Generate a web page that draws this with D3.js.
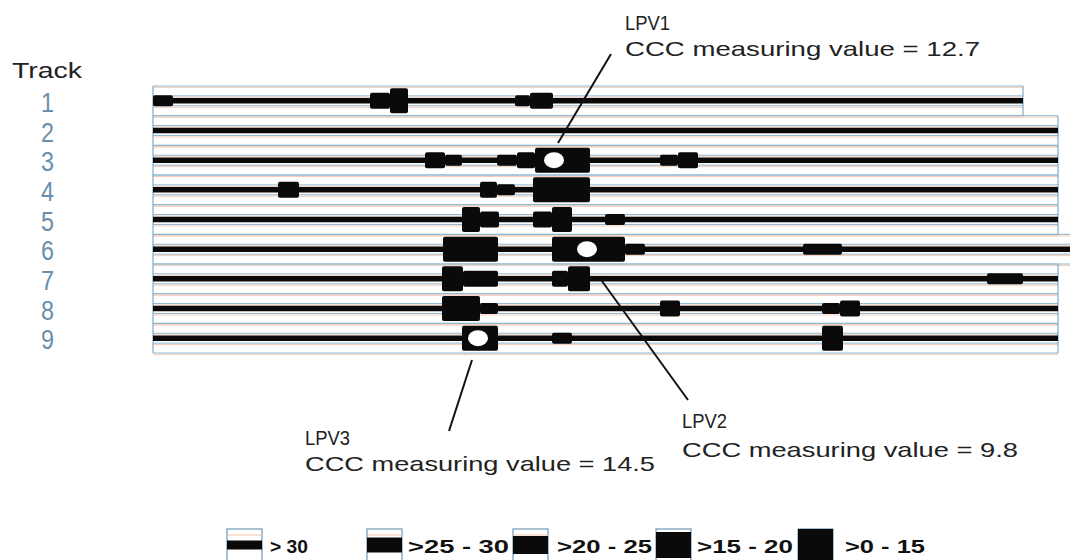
<!DOCTYPE html>
<html><head><meta charset="utf-8">
<script src="https://cdn.jsdelivr.net/npm/d3@7/dist/d3.min.js"></script>
<style>body{margin:0;background:#fff}svg{display:block}</style>
</head><body>
<svg id="c" width="1070" height="560"></svg>
<script>
// ---- data ----
const tracks = [1, 2, 3, 4, 5, 6, 7, 8, 9];
const trackLength = [870, 905, 905, 905, 905, 940, 905, 905, 905];
const classes = ["> 30", ">25 - 30", ">20 - 25", ">15 - 20", ">0 - 15"];
const baseClass = ">25 - 30";
// [track, from, to, class]
const segments = [
  [1, 0, 20, ">20 - 25"], [1, 217, 237, ">15 - 20"], [1, 237, 255, ">0 - 15"],
  [1, 362, 377, ">20 - 25"], [1, 377, 400, ">15 - 20"],
  [3, 272, 292, ">15 - 20"], [3, 292, 309, ">20 - 25"], [3, 344, 364, ">20 - 25"],
  [3, 364, 382, ">15 - 20"], [3, 382, 437, ">0 - 15"], [3, 507, 525, ">20 - 25"], [3, 525, 545, ">15 - 20"],
  [4, 125, 146, ">15 - 20"], [4, 327, 344, ">15 - 20"], [4, 344, 362, ">20 - 25"], [4, 380, 437, ">0 - 15"],
  [5, 309, 327, ">0 - 15"], [5, 327, 346, ">15 - 20"], [5, 380, 399, ">15 - 20"],
  [5, 399, 419, ">0 - 15"], [5, 452, 472, ">20 - 25"],
  [6, 290, 345, ">0 - 15"], [6, 399, 472, ">0 - 15"], [6, 472, 492, ">20 - 25"], [6, 650, 689, ">20 - 25"],
  [7, 289, 310, ">0 - 15"], [7, 310, 345, ">15 - 20"], [7, 399, 415, ">15 - 20"],
  [7, 415, 437, ">0 - 15"], [7, 834, 870, ">20 - 25"],
  [8, 289, 327, ">0 - 15"], [8, 327, 345, ">20 - 25"], [8, 507, 527, ">15 - 20"],
  [8, 669, 687, ">20 - 25"], [8, 687, 707, ">15 - 20"],
  [9, 309, 345, ">0 - 15"], [9, 399, 419, ">20 - 25"], [9, 669, 690, ">0 - 15"]
];
const lpvNames = ["LPV1", "LPV2", "LPV3"];
const lpvTrack = [3, 6, 9];
const lpvPos = [401, 434, 325];
const lpvValue = [12.7, 9.8, 14.5];

// ---- layout ----
const svg = d3.select("#c");
const font = "Liberation Sans, Arial, sans-serif";
const x = d3.scaleLinear().domain([0, 905]).range([153, 1058]);
const y = d3.scaleBand().domain(tracks).range([86, 353]).padding(0);
const bw = y.bandwidth();
const thick = d3.scaleOrdinal().domain(classes).range([2, 5.5, 11, 16, 25]);
const cy = t => y(t) + bw / 2;
const W = 1070;

// grid rows
const grid = svg.append("g");
tracks.forEach((t, i) => {
  const xe = Math.min(x(trackLength[i]), W);
  for (let k = 0; k <= 3; k++) {
    const yy = y(t) + k * bw / 3;
    grid.append("line").attr("x1", x(0)).attr("x2", xe).attr("y1", yy + 1.5).attr("y2", yy + 1.5)
      .attr("stroke", "#f6cdb8").attr("stroke-width", 1);
    grid.append("line").attr("x1", x(0)).attr("x2", xe).attr("y1", yy).attr("y2", yy)
      .attr("stroke", "#8db6d2").attr("stroke-width", 1);
  }
});
// borders
const border = svg.append("g").attr("stroke", "#7fa9c6").attr("stroke-width", 1.2).attr("fill", "none");
border.append("line").attr("x1", x(0)).attr("x2", x(0)).attr("y1", y(1)).attr("y2", y(9) + bw);
tracks.forEach((t, i) => {
  if (trackLength[i] <= 905) {
    border.append("line").attr("x1", x(trackLength[i])).attr("x2", x(trackLength[i]))
      .attr("y1", y(t)).attr("y2", y(t) + bw);
  }
});

// base track lines
svg.append("g").selectAll("line").data(tracks).join("line")
  .attr("x1", x(0)).attr("x2", (t, i) => Math.min(x(trackLength[i]), W))
  .attr("y1", cy).attr("y2", cy)
  .attr("stroke", "#0a0a0a").attr("stroke-width", thick(baseClass));

// segments
svg.append("g").selectAll("rect").data(segments).join("rect")
  .attr("x", d => x(d[1])).attr("width", d => x(d[2]) - x(d[1]))
  .attr("y", d => cy(d[0]) - thick(d[3]) / 2).attr("height", d => thick(d[3]))
  .attr("rx", 2).attr("fill", "#0a0a0a");

// LPV holes
svg.append("g").selectAll("ellipse").data(lpvNames).join("ellipse")
  .attr("cx", (d, i) => x(lpvPos[i])).attr("cy", (d, i) => cy(lpvTrack[i]))
  .attr("rx", 10).attr("ry", 8).attr("fill", "#fff");

// track labels
svg.append("text").attr("x", 12).attr("y", 78).attr("font-family", font).attr("font-size", 22)
  .attr("fill", "#222").attr("textLength", 70).attr("lengthAdjust", "spacingAndGlyphs").text("Track");
svg.append("g").selectAll("text").data(tracks).join("text")
  .attr("x", 41).attr("y", t => cy(t) + 11)
  .attr("font-family", font).attr("font-size", 27).attr("fill", "#6a8eac")
  .attr("textLength", 13).attr("lengthAdjust", "spacingAndGlyphs").text(t => t);

// annotations
const ann = [
  { p1: [558, 143], p2: [611, 54], tx: 625, ty1: 30, ty2: 56, w: 355 },
  { p1: [599, 277], p2: [688, 400], tx: 682, ty1: 428, ty2: 457, w: 336 },
  { p1: [472, 360], p2: [449, 431], tx: 305, ty1: 445, ty2: 471, w: 350 }
];
ann.forEach((a, i) => {
  svg.append("line").attr("x1", a.p1[0]).attr("y1", a.p1[1]).attr("x2", a.p2[0]).attr("y2", a.p2[1])
    .attr("stroke", "#111").attr("stroke-width", 2);
  svg.append("text").attr("x", a.tx).attr("y", a.ty1).attr("font-family", font).attr("font-size", 21)
    .attr("fill", "#222").attr("textLength", 45).attr("lengthAdjust", "spacingAndGlyphs").text(lpvNames[i]);
  svg.append("text").attr("x", a.tx).attr("y", a.ty2).attr("font-family", font).attr("font-size", 21)
    .attr("fill", "#222").attr("textLength", a.w).attr("lengthAdjust", "spacingAndGlyphs")
    .text("CCC measuring value = " + lpvValue[i]);
});

// legend
const legX = [227, 367, 513, 656, 798];
const legTextX = [270, 408, 557, 697, 845];
const legTextW = [38, 101, 95, 96, 80];
const lg = svg.append("g");
classes.forEach((c, i) => {
  const g = lg.append("g").attr("transform", `translate(${legX[i]},529)`);
  g.append("rect").attr("x", 0).attr("y", 0).attr("width", 35).attr("height", 32)
    .attr("fill", "#fff").attr("stroke", "#6f97b4").attr("stroke-width", 1.2);
  g.append("line").attr("x1", 0).attr("x2", 35).attr("y1", 6).attr("y2", 6).attr("stroke", "#f2c1a8");
  const th = [9, 15, 18, 26, 32][i];
  g.append("rect").attr("x", 0).attr("width", 35).attr("y", 16 - th / 2).attr("height", th).attr("fill", "#0a0a0a");
  lg.append("text").attr("x", legTextX[i]).attr("y", 553)
    .attr("font-family", font).attr("font-size", 19).attr("font-weight", "bold").attr("fill", "#111")
    .attr("textLength", legTextW[i]).attr("lengthAdjust", "spacingAndGlyphs").text(c);
});
</script>
</body></html>
